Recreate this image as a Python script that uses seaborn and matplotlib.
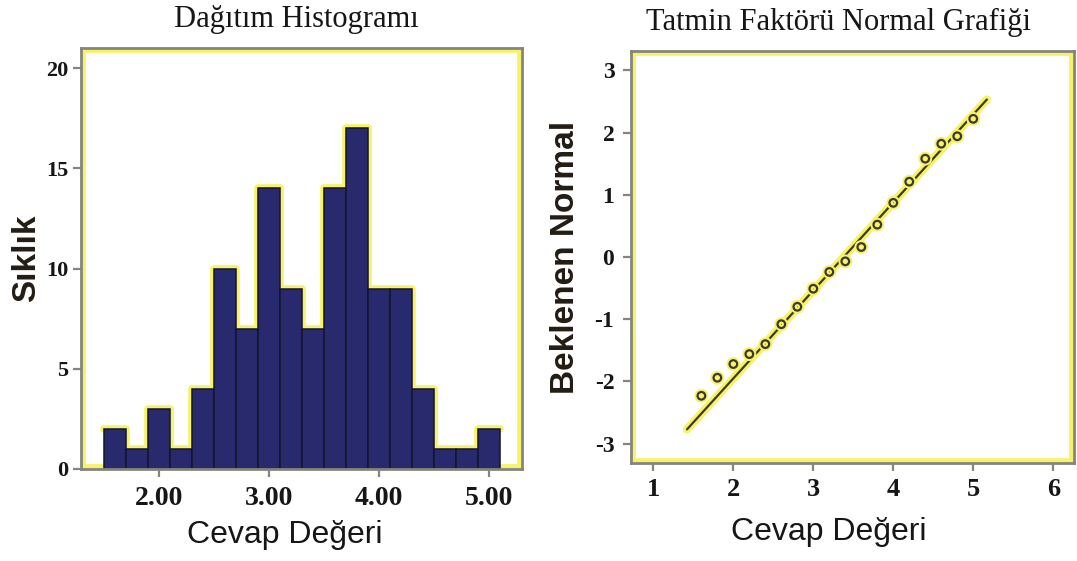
import matplotlib
matplotlib.use("Agg")
import matplotlib.pyplot as plt
import matplotlib.patheffects as pe
from matplotlib import font_manager
from matplotlib.patches import Rectangle
import seaborn as sns
import pandas as pd

# ---- data ----
bin_centers = [1.6, 1.8, 2.0, 2.2, 2.4, 2.6, 2.8, 3.0, 3.2, 3.4, 3.6, 3.8, 4.0, 4.2, 4.4, 4.6, 4.8, 5.0]
bin_counts = [2, 1, 3, 1, 4, 10, 7, 14, 9, 7, 14, 17, 9, 9, 4, 1, 1, 2]
bin_edges = [1.5, 1.7, 1.9, 2.1, 2.3, 2.5, 2.7, 2.9, 3.1, 3.3, 3.5, 3.7, 3.9, 4.1, 4.3, 4.5, 4.7, 4.9, 5.1]
hist_xticks = [2.0, 3.0, 4.0, 5.0]
hist_xticklabels = ["2.00", "3.00", "4.00", "5.00"]
hist_yticks = [0, 5, 10, 15, 20]

qq_x = [1.6, 1.8, 2.0, 2.2, 2.4, 2.6, 2.8, 3.0, 3.2, 3.4, 3.6, 3.8, 4.0, 4.2, 4.4, 4.6, 4.8, 5.0]
qq_y = [-2.23, -1.94, -1.72, -1.56, -1.40, -1.08, -0.80, -0.51, -0.24, -0.07, 0.16, 0.52, 0.87, 1.21, 1.58, 1.82, 1.94, 2.22]
line_x = [1.42, 5.17]
line_y = [-2.77, 2.53]
qq_xticks = [1, 2, 3, 4, 5, 6]
qq_yticks = [-3, -2, -1, 0, 1, 2, 3]
qq_yticklabels = ["-3", "-2", "-1", "0", "1", "2", "3"]

title_left = "Dağıtım Histogramı"
title_right = "Tatmin Faktörü Normal Grafiği"
xlabel = "Cevap Değeri"
ylabel_left = "Sıklık"
ylabel_right = "Beklenen Normal"

sns.set_theme(style="white")
plt.rcParams['font.family'] = ['Liberation Sans', 'DejaVu Sans']

installed = {f.name for f in font_manager.fontManager.ttflist}
if "Liberation Sans Narrow" in installed:
    label_family = ['Liberation Sans Narrow', 'Liberation Sans', 'DejaVu Sans']
    xl_size, yl_size = 27, 29
else:
    label_family = ['Liberation Sans', 'DejaVu Sans']
    xl_size, yl_size = 23, 24
serif = ['Liberation Serif', 'DejaVu Serif']

W, H = 1077, 561
fig = plt.figure(figsize=(W / 100, H / 100), dpi=100)
fig.patch.set_facecolor("white")

YELLOW = "#f7f266"
NAVY = "#29296e"
SPINE = "#858580"
TXT = "#161616"


def style_axes(ax):
    for s in ax.spines.values():
        s.set_visible(True)
        s.set_color(SPINE)
        s.set_linewidth(2)
    ax.add_patch(Rectangle((0, 0), 1, 1, transform=ax.transAxes, fill=False,
                           edgecolor=YELLOW, linewidth=7, zorder=0.5, clip_on=True))
    ax.tick_params(axis="both", direction="out", length=6, width=1.6, color=SPINE,
                   bottom=True, left=True, top=False, right=False)
    ax.tick_params(axis="x", pad=6)
    ax.tick_params(axis="y", pad=3)
    ax.set_facecolor("white")


# ---- left: histogram ----
ax1 = fig.add_axes([81 / W, 1 - 469 / H, 441 / W, 421 / H])
df_h = pd.DataFrame({"x": bin_centers, "w": bin_counts})
sns.histplot(data=df_h, x="x", weights="w", bins=bin_edges, element="step", fill=False,
             color=YELLOW, linewidth=5.5, ax=ax1, zorder=1)
sns.histplot(data=df_h, x="x", weights="w", bins=bin_edges, color=NAVY, alpha=1,
             edgecolor="#15152a", linewidth=1.1, ax=ax1, zorder=2)
ax1.set_xlim(1.29, 5.30)
ax1.set_ylim(0, 21)
style_axes(ax1)
ax1.set_xticks(hist_xticks)
ax1.set_xticklabels(hist_xticklabels)
ax1.set_yticks(hist_yticks)
for lab in ax1.get_xticklabels():
    lab.set_fontfamily(serif); lab.set_fontweight("bold"); lab.set_fontsize(20); lab.set_color(TXT)
for lab in ax1.get_yticklabels():
    lab.set_fontfamily(serif); lab.set_fontweight("bold"); lab.set_fontsize(16); lab.set_color(TXT)
ax1.set_xlabel(xlabel, fontsize=xl_size, color=TXT, fontfamily=label_family, va="center")
ax1.xaxis.set_label_coords(0.463, -(535 - 469) / 421)
ax1.set_ylabel(ylabel_left, fontsize=yl_size, fontweight="bold", color="#221c14",
               fontfamily=label_family, va="center")
ax1.yaxis.set_label_coords(-(81 - 27) / 441, 0.5)
fig.text(296 / W, 1 - 19 / H, title_left, ha="center", va="center",
         fontfamily=serif, fontsize=22, color=TXT)

# ---- right: normal plot ----
ax2 = fig.add_axes([631 / W, 1 - 463 / H, 443 / W, 412 / H])
sns.lineplot(x=line_x, y=line_y, color="#3c3c22", linewidth=1.6, ax=ax2, zorder=3)
ax2.lines[-1].set_path_effects([pe.Stroke(linewidth=6, foreground=YELLOW), pe.Normal()])
sns.scatterplot(x=qq_x, y=qq_y, s=30, marker="o", facecolor="none", edgecolor="#3a3a30",
                linewidth=1.6, ax=ax2, zorder=4)
ax2.collections[-1].set_path_effects([pe.Stroke(linewidth=4.5, foreground=YELLOW), pe.Normal()])
ax2.set_xlim(0.72, 6.26)
ax2.set_ylim(-3.31, 3.31)
style_axes(ax2)
ax2.set_xticks(qq_xticks)
ax2.set_yticks(qq_yticks)
ax2.set_yticklabels(qq_yticklabels)
for lab in ax2.get_xticklabels():
    lab.set_fontfamily(serif); lab.set_fontweight("bold"); lab.set_fontsize(19); lab.set_color(TXT)
for lab in ax2.get_yticklabels():
    lab.set_fontfamily(serif); lab.set_fontweight("bold"); lab.set_fontsize(17); lab.set_color(TXT)
ax2.tick_params(axis="x", pad=5)
ax2.tick_params(axis="y", pad=6)
ax2.set_xlabel(xlabel, fontsize=xl_size, color=TXT, fontfamily=label_family, va="center")
ax2.xaxis.set_label_coords((829 - 631) / 443, -(532 - 463) / 412)
ax2.set_ylabel(ylabel_right, fontsize=yl_size, fontweight="bold", color="#221c14",
               fontfamily=label_family, va="center")
ax2.yaxis.set_label_coords(-(631 - 566) / 443, 0.5)
fig.text(839 / W, 1 - 22 / H, title_right, ha="center", va="center",
         fontfamily=serif, fontsize=22, color=TXT)

fig.savefig("out.png", dpi=100, facecolor="white")
